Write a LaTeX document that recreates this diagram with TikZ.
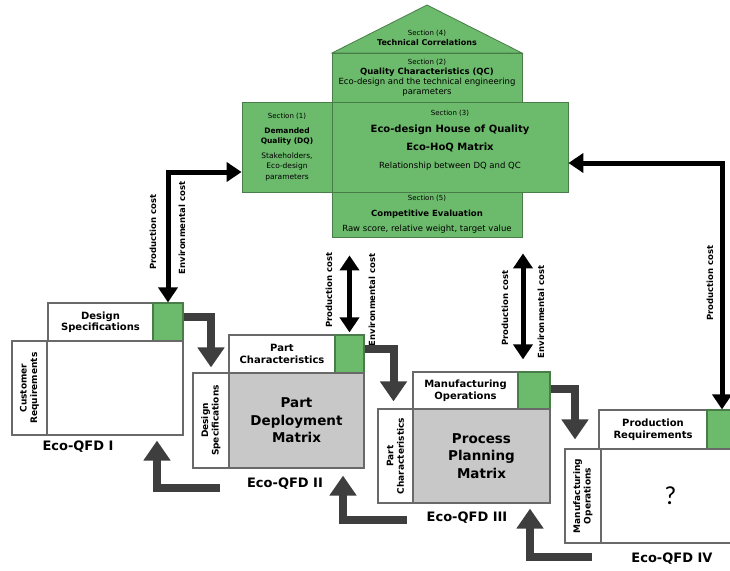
\documentclass[tikz,border=0pt]{standalone}
\usepackage{fontspec}
\setmainfont{DejaVu Sans}
\newfontfamily\qmarkfont{Carlito}
\usepackage{tikz}
\usetikzlibrary{positioning,calc,arrows.meta}
\definecolor{hoqgreen}{RGB}{108,186,108}
\definecolor{hoqedge}{RGB}{72,124,72}
\definecolor{matgray}{RGB}{200,200,200}
\definecolor{boxedge}{RGB}{105,105,105}
\definecolor{flowgray}{RGB}{62,62,62}
\tikzset{secbox/.style={draw=hoqedge,fill=hoqgreen,line width=0.8pt,inner sep=0pt,align=center,font=\fontsize{8.5}{10}\selectfont},
  hdrbox/.style={draw=boxedge,fill=white,line width=1.2pt,inner sep=0pt,align=center,font=\bfseries\fontsize{10}{11.5}\selectfont},
  sidebox/.style={hdrbox,rotate=90,font=\bfseries\fontsize{9}{10.5}\selectfont},
  cellbox/.style={draw=hoqedge,fill=hoqgreen,line width=1.2pt,inner sep=0pt},
  matbox/.style={draw=boxedge,fill=matgray,line width=1.2pt,inner sep=0pt,align=center,font=\bfseries\fontsize{13.5}{17.5}\selectfont},
  qfdlabel/.style={font=\bfseries\fontsize{13}{15}\selectfont},
  costlabel/.style={rotate=90,font=\bfseries\fontsize{8.5}{10}\selectfont},
  costarrow/.style={line width=5pt,{Triangle[length=15pt,width=19pt]}-{Triangle[length=15pt,width=19pt]}},
  flowarrow/.style={color=flowgray,line width=8pt,-{Triangle[length=20pt,width=26pt]}}}

\begin{document}
\begin{tikzpicture}[x=1pt,y=-1pt]
    \useasboundingbox (0,0) rectangle (730,570);
    \clip (0,0) rectangle (730,570);

    \filldraw[draw=hoqedge,fill=hoqgreen,line width=0.8pt] (332,53) -- (427,5) -- (522,53) -- cycle;
    \node[align=center,font=\fontsize{8}{10}\selectfont] (sec4) at (427,38) {{\fontsize{7}{9}\selectfont Section (4)}\\\textbf{Technical Correlations}};
    \node[secbox,minimum width=190pt,minimum height=49pt] (sec2) at (427,77.5) {{\fontsize{7}{9}\selectfont Section (2)}\\\textbf{Quality Characteristics (QC)}\\Eco-design and the technical engineering\\parameters};
    \node[secbox,minimum width=90pt,minimum height=90pt,font=\fontsize{7.5}{10.5}\selectfont] (sec1) at (287,147) {{\fontsize{7}{9}\selectfont Section (1)}\\[4pt]\textbf{Demanded}\\\textbf{Quality (DQ)}\\[4pt]Stakeholders,\\Eco-design\\parameters};
    \node[secbox,minimum width=236pt,minimum height=90pt] (sec3) at (450,147) {{\fontsize{7}{9}\selectfont Section (3)}\\[7pt]{\bfseries\fontsize{10}{12}\selectfont Eco-design House of Quality}\\[8pt]{\bfseries\fontsize{10}{12}\selectfont Eco-HoQ Matrix}\\[8pt]Relationship between DQ and QC\\[6pt]\mbox{}};
    \node[secbox,minimum width=190pt,minimum height=45pt] (sec5) at (427,214.5) {{\fontsize{7}{9}\selectfont Section (5)}\\[6pt]\textbf{Competitive Evaluation}\\[5pt]Raw score, relative weight, target value};

    \node[hdrbox,minimum width=105pt,minimum height=38pt] (top1) at (100.5,322) {Design\\Specifications};
    \node[cellbox,minimum width=30pt,minimum height=38pt] (cell1) at (168,322) {};
    \node[sidebox,minimum width=94pt,minimum height=35pt] (side1) at (29.5,388) {Customer\\Requirements};
    \node[hdrbox,minimum width=136pt,minimum height=94pt] (main1) at (115,388) {};
    \node[qfdlabel] (lab1) at (78,447) {Eco-QFD I};

    \node[hdrbox,minimum width=106pt,minimum height=38pt] (top2) at (282,354) {Part\\Characteristics};
    \node[cellbox,minimum width=29pt,minimum height=38pt] (cell2) at (349.5,354) {};
    \node[sidebox,minimum width=95pt,minimum height=36pt] (side2) at (211,420.5) {Design\\Specifications};
    \node[matbox,minimum width=135pt,minimum height=95pt] (main2) at (296.5,420.5) {Part\\Deployment\\Matrix};
    \node[qfdlabel] (lab2) at (285,484) {Eco-QFD II};

    \node[hdrbox,minimum width=105pt,minimum height=37pt] (top3) at (465.5,390.5) {Manufacturing\\Operations};
    \node[cellbox,minimum width=32pt,minimum height=37pt] (cell3) at (534,390.5) {};
    \node[sidebox,minimum width=94pt,minimum height=35pt] (side3) at (395.5,456) {Part\\Characteristics};
    \node[matbox,minimum width=137pt,minimum height=94pt] (main3) at (481.5,456) {Process\\Planning\\Matrix};
    \node[qfdlabel] (lab3) at (467,518) {Eco-QFD III};

    \node[hdrbox,minimum width=108pt,minimum height=39pt] (top4) at (653,429.5) {Production\\Requirements};
    \node[cellbox,minimum width=30pt,minimum height=39pt] (cell4) at (722,429.5) {};
    \node[sidebox,minimum width=94pt,minimum height=36pt] (side4) at (583,496) {Manufacturing\\Operations};
    \node[hdrbox,minimum width=139pt,minimum height=94pt] (main4) at (670.5,496) {\qmarkfont\mdseries\fontsize{26}{28}\selectfont ?};
    \node[qfdlabel] (lab4) at (672,559) {Eco-QFD IV};

    \draw [costarrow] ($(sec1.west)+(0,25)$) -| (cell1.north);
    \draw [costarrow] ($(sec5.south -| cell2.north)+(0,18)$) -- ($(cell2.north)+(0,-2)$);
    \draw [costarrow] ($(sec5.south -| cell3.north)+(-11,16)$) -- ($(cell3.north)+(-11,-12)$);
    \draw [costarrow] ($(sec3.east)+(0,16)$) -| (cell4.north);

    \node[costlabel] (pc1) at (153,232) {Production cost};
    \node[costlabel] (ec1) at (182,228) {Environmental cost};
    \node[costlabel] (pc2) at (329,290) {Production cost};
    \node[costlabel] (ec2) at (372,300) {Environmental cost};
    \node[costlabel] (pc3) at (505,308) {Production cost};
    \node[costlabel] (ec3) at (541,312) {Environmental cost};
    \node[costlabel] (pc4) at (710,283) {Production cost};
    \node[costlabel] (ec4) at (734,280) {Environmental cost};

    \draw [flowarrow] ($(cell1.east)+(0,-5)$) -| ($(side2.east)+(0,-5)$);
    \draw [flowarrow] ($(cell2.east)+(0,-5)$) -| ($(side3.east)+(-2,-7)$);
    \draw [flowarrow] ($(cell3.east)+(0,-2)$) -| ($(side4.east)+(-8,-9)$);

    \coordinate (r1) at (220,488);
    \coordinate (r2) at (407,520);
    \coordinate (r3) at (592,557);
    \draw [flowarrow] (r1) -| ($(main1.south)+(42,5)$);
    \draw [flowarrow] (r2) -| ($(main2.south)+(46.5,7)$);
    \draw [flowarrow] (r3) -| ($(main3.south)+(48.5,5)$);
\end{tikzpicture}
\end{document}
